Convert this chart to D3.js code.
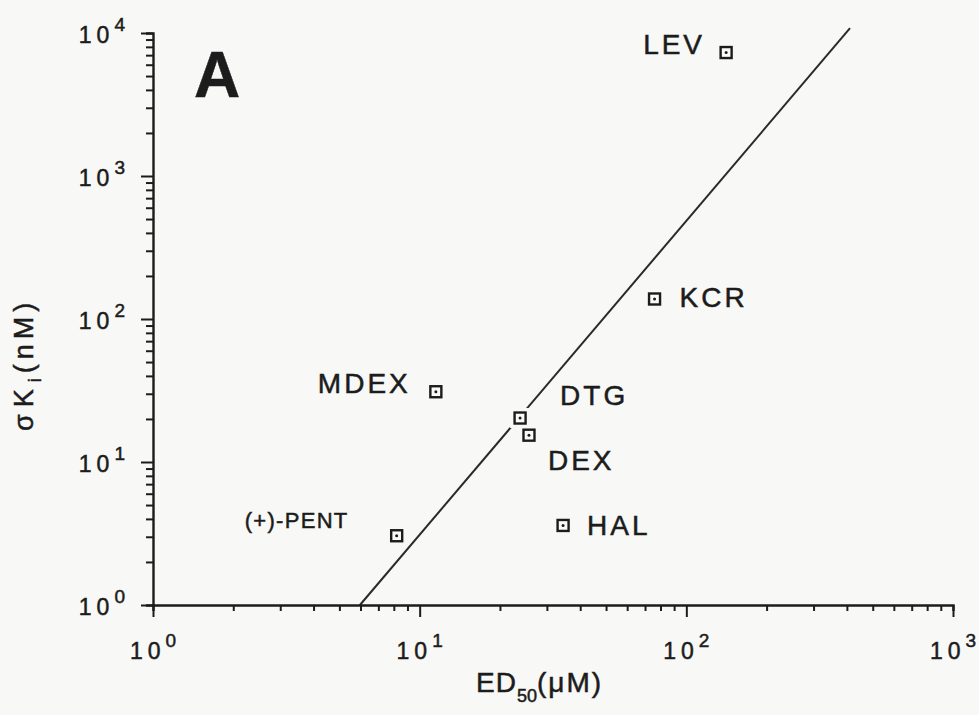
<!DOCTYPE html>
<html>
<head>
<meta charset="utf-8">
<script src="https://cdn.jsdelivr.net/npm/d3@7/dist/d3.min.js"></script>
<style>
  html, body { margin: 0; padding: 0; background: #f8f8f6; }
  svg { display: block; }
  text { font-family: "Liberation Sans", Arial, Helvetica, sans-serif; fill: #1c1c1c; stroke: #1c1c1c; stroke-width: 0.5px; }
</style>
</head>
<body>
<script>
// Sigma-site binding affinity vs. ED50 for each compound
const compounds = ["LEV", "KCR", "MDEX", "DTG", "DEX", "HAL", "(+)-PENT"];
const ed50 = [141, 76, 11.5, 23.8, 25.7, 34.5, 8.2];      // µM
const sigmaKi = [7300, 138, 31, 20.3, 15.4, 3.6, 3.05];   // nM

// Fitted regression line (two end points)
const fitX = [5.97, 411];
const fitY = [1, 10800];

// Decade exponents for axis labels
const xExponents = [0, 1, 2, 3];
const yExponents = [0, 1, 2, 3, 4];

const W = 979, H = 715;
const svg = d3.select("body").append("svg").attr("width", W).attr("height", H);
svg.append("rect").attr("width", W).attr("height", H).attr("fill", "#f8f8f6");

const x = d3.scaleLog().domain([1, 1000]).range([153, 953]);
const y = d3.scaleLog().domain([1, 10000]).range([605, 33]);

const ink = "#1c1c1c";

// regression line
svg.append("path")
  .datum(fitX.map((v, i) => [v, fitY[i]]))
  .attr("d", d3.line().x(d => x(d[0])).y(d => y(d[1])))
  .attr("fill", "none").attr("stroke", "#2a2a2a").attr("stroke-width", 2);

// points
const pts = compounds.map((c, i) => ({ name: c, x: ed50[i], y: sigmaKi[i] }));
const g = svg.append("g");
g.selectAll("rect.halo").data(pts).join("rect").attr("class", "halo")
  .attr("x", d => x(d.x) - 10).attr("y", d => y(d.y) - 10)
  .attr("width", 20).attr("height", 20).attr("fill", "#f8f8f6");
g.selectAll("rect.pt").data(pts).join("rect").attr("class", "pt")
  .attr("x", d => x(d.x) - 5.5).attr("y", d => y(d.y) - 5.5)
  .attr("width", 11).attr("height", 11)
  .attr("fill", "#fbfbfb").attr("stroke", ink).attr("stroke-width", 2.4);
g.selectAll("circle.dot").data(pts).join("circle").attr("class", "dot")
  .attr("cx", d => x(d.x)).attr("cy", d => y(d.y)).attr("r", 1.5).attr("fill", ink);

// label placement relative to each point
const labelPos = {
  "LEV": [-83, 1], "KCR": [25, 8], "MDEX": [-118, 1], "DTG": [40, -13],
  "DEX": [19, 35], "HAL": [24, 10], "(+)-PENT": [-152, -8]
};
g.selectAll("text.lbl").data(pts).join("text").attr("class", "lbl")
  .attr("x", d => x(d.x) + labelPos[d.name][0])
  .attr("y", d => y(d.y) + labelPos[d.name][1])
  .attr("font-size", d => d.name === "(+)-PENT" ? 22 : 28)
  .attr("letter-spacing", d => d.name === "(+)-PENT" ? 1.3 : 3)
  .text(d => d.name);

// axes with minor ticks
function logTicks(exps) {
  const t = [];
  exps.forEach((e, i) => {
    if (i === exps.length - 1) { t.push(Math.pow(10, e)); return; }
    for (let m = 1; m <= 9; m++) t.push(m * Math.pow(10, e));
  });
  return t;
}
const isMajor = v => Math.abs(Math.log10(v) - Math.round(Math.log10(v))) < 1e-9;

const xAxis = svg.append("g").attr("transform", "translate(0,605)")
  .call(d3.axisBottom(x).tickValues(logTicks(xExponents)).tickFormat("").tickSizeOuter(0).tickSize(6));
xAxis.selectAll(".tick line").attr("y2", d => isMajor(d) ? 12 : 6);

const yAxis = svg.append("g").attr("transform", "translate(153,0)")
  .call(d3.axisLeft(y).tickValues(logTicks(yExponents)).tickFormat("").tickSizeOuter(0).tickSize(7));
yAxis.selectAll(".tick line").attr("x2", d => isMajor(d) ? -12 : -7);

[xAxis, yAxis].forEach(a => {
  a.select(".domain").attr("stroke", ink).attr("stroke-width", 2.4);
  a.selectAll(".tick line").attr("stroke", ink).attr("stroke-width", 2);
});

// tick labels: 10^n
xExponents.forEach(e => {
  const t = svg.append("text").attr("x", x(Math.pow(10, e))).attr("y", 659)
    .attr("text-anchor", "middle").attr("font-size", 23);
  t.append("tspan").attr("letter-spacing", 5).text("10");
  t.append("tspan").attr("dy", -12).attr("font-size", 19).text(e);
});
yExponents.forEach(e => {
  const t = svg.append("text").attr("x", 125).attr("y", y(Math.pow(10, e)) + 10)
    .attr("text-anchor", "end").attr("font-size", 23);
  t.append("tspan").attr("letter-spacing", 5).text("10");
  t.append("tspan").attr("dy", -12).attr("font-size", 19).text(e);
});

// panel letter
svg.append("text").attr("x", 194).attr("y", 97)
  .attr("font-size", 64).attr("font-weight", "bold").text("A");

// axis titles
const xt = svg.append("text").attr("x", 476).attr("y", 692).attr("font-size", 28);
xt.append("tspan").attr("letter-spacing", 1).text("ED");
xt.append("tspan").attr("dy", 10).attr("font-size", 18).text("50");
xt.append("tspan").attr("dy", -10).attr("letter-spacing", 2).text("(\u03bcM)");

const yt = svg.append("text")
  .attr("transform", "translate(33,431) rotate(-90)").attr("font-size", 27);
yt.append("tspan").attr("letter-spacing", 7).text("\u03c3K");
yt.append("tspan").attr("dy", 8).attr("font-size", 18).attr("letter-spacing", 5).text("i");
yt.append("tspan").attr("dy", -8).attr("letter-spacing", 5).text("(nM)");
</script>
</body>
</html>
